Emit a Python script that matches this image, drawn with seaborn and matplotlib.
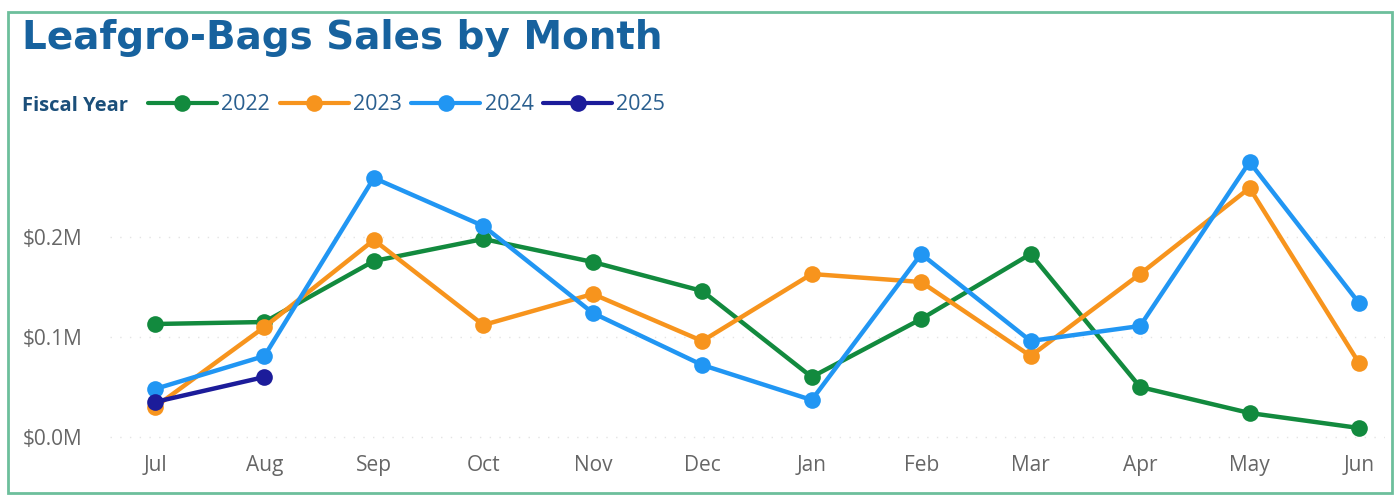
import matplotlib
matplotlib.use("Agg")
import matplotlib.pyplot as plt
import seaborn as sns
import pandas as pd
from matplotlib.patches import Rectangle
from matplotlib.lines import Line2D
from matplotlib.ticker import FuncFormatter

months = ["Jul", "Aug", "Sep", "Oct", "Nov", "Dec", "Jan", "Feb", "Mar", "Apr", "May", "Jun"]
sales_2022 = [0.113, 0.115, 0.176, 0.198, 0.175, 0.146, 0.060, 0.118, 0.183, 0.050, 0.024, 0.009]
sales_2023 = [0.030, 0.110, 0.197, 0.112, 0.143, 0.096, 0.163, 0.155, 0.081, 0.163, 0.249, 0.074]
sales_2024 = [0.048, 0.081, 0.259, 0.211, 0.124, 0.072, 0.037, 0.183, 0.096, 0.111, 0.275, 0.134]
sales_2025 = [0.035, 0.060]
years = ["2022", "2023", "2024", "2025"]
colors = {"2022": "#128a3e", "2023": "#f7941d", "2024": "#2196f3", "2025": "#1c1c9a"}

rows = []
for y, vals in zip(years, [sales_2022, sales_2023, sales_2024, sales_2025]):
    for i, v in enumerate(vals):
        rows.append({"Month": i, "Sales": v, "Year": y})
df = pd.DataFrame(rows)

sns.set_style("white")
plt.rcParams["font.family"] = ["Open Sans", "DejaVu Sans"]

fig = plt.figure(figsize=(13.95, 4.98), dpi=100)
ax = fig.add_axes([110/1395, 1 - 445/498, (1385-110)/1395, (445-140)/498])

sns.lineplot(data=df, x="Month", y="Sales", hue="Year", palette=colors,
             marker="o", markersize=12, markeredgewidth=0, linewidth=3.2,
             ax=ax, legend=False, sort=False)

ax.set_xlim(-0.411, 11.2375)
ax.set_ylim(-0.008, 0.297)
ax.set_xticks(range(len(months)))
ax.set_xticklabels(months)
ax.set_yticks([0.0, 0.1, 0.2])
ax.yaxis.set_major_formatter(FuncFormatter(lambda v, p: f"${v:.1f}M"))
ax.tick_params(axis="both", length=0, labelsize=15, colors="#666666")
ax.tick_params(axis="x", pad=7)
ax.tick_params(axis="y", pad=63)
for lbl in ax.get_yticklabels():
    lbl.set_horizontalalignment("left")
ax.set_xlabel("")
ax.set_ylabel("")
for s in ax.spines.values():
    s.set_visible(False)
ax.grid(False)
for yv in [0.0, 0.1, 0.2]:
    ax.axhline(yv, color="#e4e4e4", linestyle=(0, (1, 6)), linewidth=1, zorder=0)
ax.set_facecolor("none")

# border
fig.patches.append(Rectangle((8/1395, 5/498), (1392-8)/1395, (493-12)/498,
                             transform=fig.transFigure, fill=False,
                             edgecolor="#6dbf9c", linewidth=2))

fig.text(22/1395, 1 - 38/498, "Leafgro-Bags Sales by Month", fontsize=28,
         fontweight="bold", color="#17629e", family="DejaVu Sans", va="center", ha="left")
fig.text(22/1395, 1 - 106/498, "Fiscal Year", fontsize=14.5, fontweight="bold",
         color="#1b4f7a", va="center", ha="left")

handles = [Line2D([0], [0], color=colors[y], linewidth=3, marker="o", markersize=12,
                  markeredgewidth=0) for y in years]
fig.legend(handles, years, loc="center left", bbox_to_anchor=(148/1395, 1 - 105/498),
           ncol=4, frameon=False, handlelength=3.2, handletextpad=0.2,
           columnspacing=0.45, fontsize=15.5, labelcolor="#2a5f8f", borderaxespad=0,
           borderpad=0)

fig.savefig("out.png", dpi=100, facecolor="white")
